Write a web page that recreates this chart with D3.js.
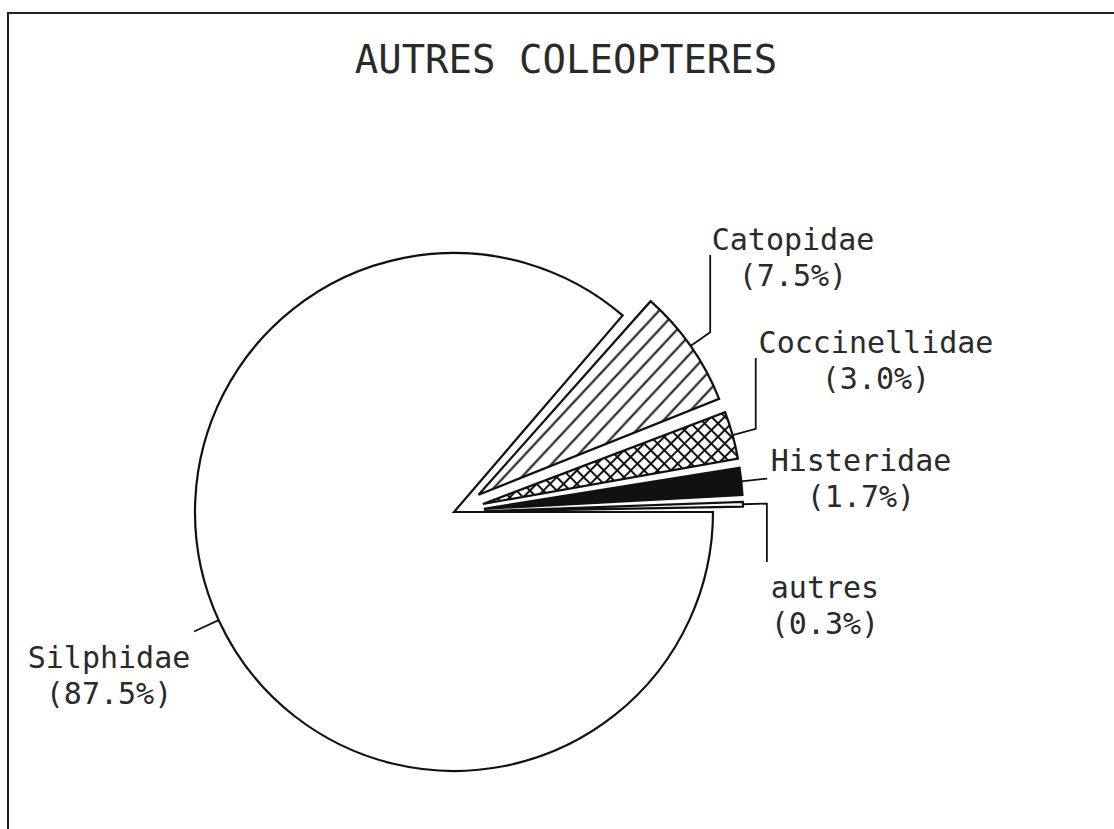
<!DOCTYPE html>
<html>
<head>
<meta charset="utf-8">
<script src="https://cdn.jsdelivr.net/npm/d3@7"></script>
<style>
  html, body { margin: 0; padding: 0; background: #fff; }
  svg { display: block; }
  text { font-family: "DejaVu Sans Mono", "Liberation Mono", monospace; fill: #2a2a2a; }
</style>
</head>
<body>
<div id="chart"></div>
<script>
// ---- data ----
const title = "AUTRES COLEOPTERES";
const categories = ["Silphidae", "Catopidae", "Coccinellidae", "Histeridae", "autres"];
const values = [87.5, 7.5, 3.0, 1.7, 0.3];

// ---- layout / style (not data) ----
const W = 1114, H = 829;
const cx = 454, cy = 512, R = 259;
const padDeg = 1;
const explode = { Silphidae: 0, Catopidae: 30, Coccinellidae: 30, Histeridae: 30, autres: 30 };
const fills = { Silphidae: "#fff", Catopidae: "url(#hatch)", Coccinellidae: "url(#cross)", Histeridae: "#111", autres: "#fff" };
// label anchor: centre x, first-line baseline y; leader: radial extension + optional vertical end
const labelPos = {
  Silphidae:     { x: 109, y: 668, ext: 27, vy: null },
  Catopidae:     { x: 793, y: 250, ext: 24, vy: 255 },
  Coccinellidae: { x: 876, y: 353, ext: 24, vy: 358 },
  Histeridae:    { x: 861, y: 471, ext: 26, vy: null },
  autres:        { x: 825, y: 598, ext: 24, vy: 562 }
};

const svg = d3.select("#chart").append("svg").attr("width", W).attr("height", H);

const defs = svg.append("defs");
const hs = 13;
const hatch = defs.append("pattern").attr("id", "hatch")
  .attr("patternUnits", "userSpaceOnUse").attr("width", hs).attr("height", hs)
  .attr("patternTransform", "rotate(-47)");
hatch.append("rect").attr("width", hs).attr("height", hs).attr("fill", "#fff");
hatch.append("line").attr("x1", 0).attr("x2", hs).attr("y1", hs / 2).attr("y2", hs / 2)
  .attr("stroke", "#111").attr("stroke-width", 2);

const cs = 9.5;
const cross = defs.append("pattern").attr("id", "cross")
  .attr("patternUnits", "userSpaceOnUse").attr("width", cs).attr("height", cs)
  .attr("patternTransform", "rotate(45)");
cross.append("rect").attr("width", cs).attr("height", cs).attr("fill", "#fff");
cross.append("line").attr("x1", 0).attr("x2", cs).attr("y1", cs / 2).attr("y2", cs / 2)
  .attr("stroke", "#111").attr("stroke-width", 2);
cross.append("line").attr("y1", 0).attr("y2", cs).attr("x1", cs / 2).attr("x2", cs / 2)
  .attr("stroke", "#111").attr("stroke-width", 2);

// frame
svg.append("rect").attr("x", 8).attr("y", 13).attr("width", W + 20).attr("height", H + 20)
  .attr("fill", "none").attr("stroke", "#222").attr("stroke-width", 2);

// title
svg.append("text").attr("x", 566).attr("y", 73).attr("text-anchor", "middle")
  .attr("font-size", 39).text(title);

const pad = padDeg * Math.PI / 180;
const data = categories.map((c, i) => ({ name: c, value: values[i] }));
const pie = d3.pie().value(d => d.value).sort(null)
  .startAngle(Math.PI / 2 - pad / 2).endAngle(Math.PI / 2 - pad / 2 + 2 * Math.PI)
  .padAngle(pad);
const arcs = pie(data).map(d => {
  const s = d.startAngle + pad / 2, e = d.endAngle - pad / 2;
  const mid = (s + e) / 2;
  const off = explode[d.data.name];
  return { ...d, s, e, mid, ox: cx + off * Math.sin(mid), oy: cy - off * Math.cos(mid) };
});

const arcGen = d3.arc().innerRadius(0).outerRadius(R);

const g = svg.append("g");
g.selectAll("path.slice").data(arcs).join("path")
  .attr("class", "slice")
  .attr("transform", d => `translate(${d.ox},${d.oy})`)
  .attr("d", d => arcGen({ startAngle: d.s, endAngle: d.e }))
  .attr("fill", d => fills[d.data.name])
  .attr("stroke", "#111").attr("stroke-width", 2.2).attr("stroke-linejoin", "miter");

// leader lines and labels
const fmt = d3.format(".1f");
arcs.forEach(d => {
  const lp = labelPos[d.data.name];
  const sx = Math.sin(d.mid), sy = -Math.cos(d.mid);
  const pts = [[d.ox + R * sx, d.oy + R * sy], [d.ox + (R + lp.ext) * sx, d.oy + (R + lp.ext) * sy]];
  if (lp.vy !== null) pts.push([pts[1][0], lp.vy]);
  svg.append("path").attr("d", d3.line()(pts))
    .attr("fill", "none").attr("stroke", "#111").attr("stroke-width", 1.8);
  const t = svg.append("text").attr("text-anchor", "middle").attr("font-size", 30);
  t.append("tspan").attr("x", lp.x).attr("y", lp.y).text(d.data.name);
  t.append("tspan").attr("x", lp.x).attr("y", lp.y + 35.5).text(`(${fmt(d.data.value)}%)`);
});
</script>
</body>
</html>
